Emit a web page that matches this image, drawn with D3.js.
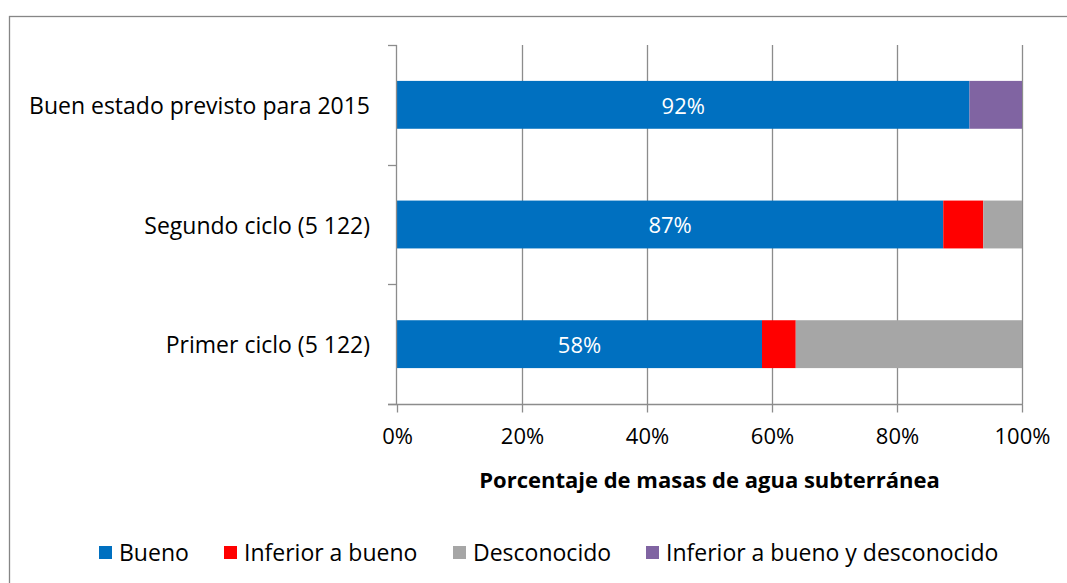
<!DOCTYPE html>
<html>
<head>
<meta charset="utf-8">
<script src="https://cdnjs.cloudflare.com/ajax/libs/d3/7.8.5/d3.min.js"></script>
<style>
body{margin:0;background:#fff;}
svg{display:block;font-family:"Open Sans",sans-serif;}
</style>
</head>
<body>
<svg id="chart" width="1067" height="583"></svg>
<script>
// categories top to bottom
var categories = ["Buen estado previsto para 2015", "Segundo ciclo (5 122)", "Primer ciclo (5 122)"];
var seriesNames = ["Bueno", "Inferior a bueno", "Desconocido", "Inferior a bueno y desconocido"];
var seriesColors = ["#0070C0", "#FF0000", "#A6A6A6", "#8064A2"];
// percentages per category, one array per series
var bueno = [91.6, 87.4, 58.4];
var inferior = [0, 6.4, 5.4];
var desconocido = [0, 6.2, 36.2];
var inferiorDesc = [8.4, 0, 0];
var xTicks = [0, 20, 40, 60, 80, 100];

var svg = d3.select("#chart");
var plotLeft = 397, plotRight = 1022, plotTop = 45, plotBottom = 404;
var fs = 23, tickFs = 22, titleFs = 22;

// outer frame (right / bottom edges fall outside the picture)
svg.append("rect")
    .attr("x", 9.5).attr("y", 16.5)
    .attr("width", 1100).attr("height", 700)
    .attr("fill", "none").attr("stroke", "#868686").attr("stroke-width", 1.3);

var x = d3.scaleLinear().domain([0, 100]).range([plotLeft, plotRight]);
var y = d3.scaleBand().domain(categories).range([plotTop, plotBottom])
    .paddingInner(0.6).paddingOuter(0.3);

// gridlines
svg.append("g").selectAll("line")
    .data(xTicks.slice(1))
    .enter().append("line")
    .attr("x1", function(d) { return Math.round(x(d)) + 0.5; })
    .attr("x2", function(d) { return Math.round(x(d)) + 0.5; })
    .attr("y1", plotTop).attr("y2", plotBottom)
    .attr("stroke", "#8c8c8c").attr("stroke-width", 1.3);

// x axis
var xAxis = svg.append("g")
    .attr("transform", "translate(0," + (plotBottom + 0.5) + ")")
    .call(d3.axisBottom(x).tickValues(xTicks).tickSize(8).tickPadding(16)
        .tickFormat(function(d) { return d + "%"; }));
xAxis.select(".domain").remove();
xAxis.selectAll(".tick line").attr("stroke", "#8c8c8c").attr("stroke-width", 1.3);
xAxis.selectAll("text").attr("font-size", tickFs).attr("fill", "#000").attr("font-family", "Open Sans");
xAxis.append("line")
    .attr("x1", plotLeft - 9).attr("x2", plotRight + 1)
    .attr("y1", 0).attr("y2", 0)
    .attr("stroke", "#8c8c8c").attr("stroke-width", 1.3);

// stacked bars
var stackData = categories.map(function(c, i) {
    return { cat: c, s0: bueno[i], s1: inferior[i], s2: desconocido[i], s3: inferiorDesc[i] };
});
var stack = d3.stack().keys(["s0", "s1", "s2", "s3"]);
var layers = stack(stackData);

svg.append("g").selectAll("g")
    .data(layers)
    .enter().append("g")
    .attr("fill", function(d, i) { return seriesColors[i]; })
    .selectAll("rect")
    .data(function(d) { return d; })
    .enter().append("rect")
    .attr("x", function(d) { return x(d[0]); })
    .attr("y", function(d) { return y(d.data.cat); })
    .attr("width", function(d) { return x(d[1]) - x(d[0]); })
    .attr("height", y.bandwidth());

// labels on the blue segment
svg.append("g").selectAll("text")
    .data(stackData)
    .enter().append("text")
    .attr("x", function(d) { return x(d.s0 / 2); })
    .attr("y", function(d) { return y(d.cat) + y.bandwidth() / 2; })
    .attr("dy", "0.4em")
    .attr("text-anchor", "middle")
    .attr("fill", "#fff")
    .attr("font-size", tickFs)
    .text(function(d) { return Math.round(d.s0) + "%"; });

// y axis: line, ticks at band boundaries, labels
var yAxis = svg.append("g");
yAxis.append("line")
    .attr("x1", plotLeft - 0.5).attr("x2", plotLeft - 0.5)
    .attr("y1", plotTop).attr("y2", plotBottom)
    .attr("stroke", "#8c8c8c").attr("stroke-width", 1.3);
var bounds = d3.range(categories.length + 1).map(function(i) { return plotTop + i * y.step(); });
yAxis.selectAll(".tk")
    .data(bounds)
    .enter().append("line")
    .attr("x1", plotLeft - 9).attr("x2", plotLeft)
    .attr("y1", function(d) { return Math.round(d) + 0.5; })
    .attr("y2", function(d) { return Math.round(d) + 0.5; })
    .attr("stroke", "#8c8c8c").attr("stroke-width", 1.3);
yAxis.selectAll(".lbl")
    .data(categories)
    .enter().append("text")
    .attr("x", plotLeft - 27)
    .attr("y", function(d) { return y(d) + y.bandwidth() / 2; })
    .attr("dy", "0.4em")
    .attr("text-anchor", "end")
    .attr("font-size", fs)
    .text(function(d) { return d; });

// axis title
svg.append("text")
    .attr("x", (plotLeft + plotRight) / 2)
    .attr("y", 488)
    .attr("text-anchor", "middle")
    .attr("font-size", titleFs)
    .attr("font-weight", "bold")
    .text("Porcentaje de masas de agua subterránea");

// legend
var legendX = [99, 224, 453, 646];
var legend = svg.append("g").selectAll("g")
    .data(seriesNames)
    .enter().append("g")
    .attr("transform", function(d, i) { return "translate(" + legendX[i] + ",546)"; });
legend.append("rect")
    .attr("width", 13).attr("height", 13)
    .attr("fill", function(d, i) { return seriesColors[i]; });
legend.append("text")
    .attr("x", 20).attr("y", 7)
    .attr("dy", "0.36em")
    .attr("font-size", fs)
    .text(function(d) { return d; });
</script>
</body>
</html>
